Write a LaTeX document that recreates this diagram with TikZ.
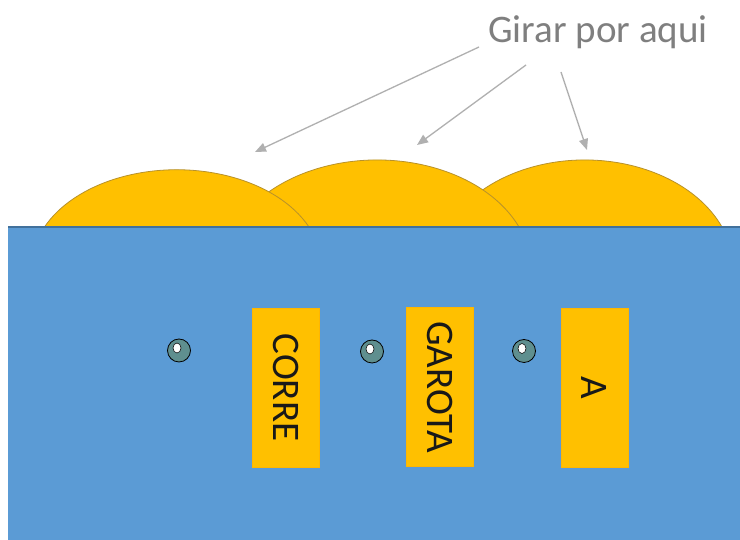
\documentclass[tikz,border=0pt]{standalone}
\usepackage{fontspec}
\setmainfont{Carlito}
\usetikzlibrary{arrows.meta,shapes.geometric}
\definecolor{bluebg}{HTML}{5B9BD5}
\definecolor{blueedge}{HTML}{41719C}
\definecolor{gold}{HTML}{FFC000}
\definecolor{goldedge}{HTML}{B8912A}
\definecolor{arrowgray}{HTML}{B0B0B0}
\definecolor{textgray}{HTML}{7F7F7F}
\definecolor{eyefill}{HTML}{5F8F8F}
\tikzset{
  dome/.style={fill=gold, draw=goldedge, line width=0.8pt},
  tag/.style={fill=gold, draw=gold!85!orange, line width=0.5pt, rotate=-90, minimum width=159, minimum height=67, inner sep=0pt, font=\fontsize{39}{39}\selectfont, text=black!90},
  eye/.style={circle, fill=eyefill, draw=black, line width=0.8pt, minimum size=23, inner sep=0pt},
  pupil/.style={ellipse, fill=white, draw=black, line width=0.5pt, minimum width=8, minimum height=10, inner sep=0pt},
  pointer/.style={draw=arrowgray, line width=1.3pt, -{Triangle[length=11pt,width=9pt]}}
}
\begin{document}
\begin{tikzpicture}[x=1pt,y=1pt]
\useasboundingbox (0,0) rectangle (740,540);
\fill[white] (0,0) rectangle (740,540);
% domes (back to front)
\draw[dome] (722,313) arc[start angle=23,end angle=157,x radius=149,y radius=110] -- cycle;
\draw[dome] (519,313) arc[start angle=23,end angle=157,x radius=154,y radius=110] -- cycle;
\draw[dome] (309,313) arc[start angle=24.2,end angle=155.8,x radius=145,y radius=97] -- cycle;
% base
\fill[bluebg] (8,0) rectangle (740,313);
\draw[blueedge, line width=1.2pt] (8,313) -- (740,313);
% label
\node[text=textgray, font=\fontsize{39}{39}\selectfont, inner sep=0pt, anchor=base] (label) at (598,497) {Girar por aqui};
\coordinate (s1) at (479,493);
\coordinate (s2) at (526,475);
\coordinate (s3) at (561,468);
\coordinate (t1) at (255,388);
\coordinate (t2) at (417,395);
\coordinate (t3) at (587,390);
\draw[pointer] (s1) -- (t1);
\draw[pointer] (s2) -- (t2);
\draw[pointer] (s3) -- (t3);
% tags
\node[tag] (corre) at (286,152.5) {CORRE};
\node[tag] (garota) at (440,153) {GAROTA};
\node[tag] (a) at (594.5,152.5) {A};
% eyes
\node[eye] (e1) at (179,189.5) {};
\node[pupil] (p1) at (177,192) {};
\node[eye] (e2) at (372,188.5) {};
\node[pupil] (p2) at (370,191) {};
\node[eye] (e3) at (524,189) {};
\node[pupil] (p3) at (522,191.5) {};
\end{tikzpicture}
\end{document}
